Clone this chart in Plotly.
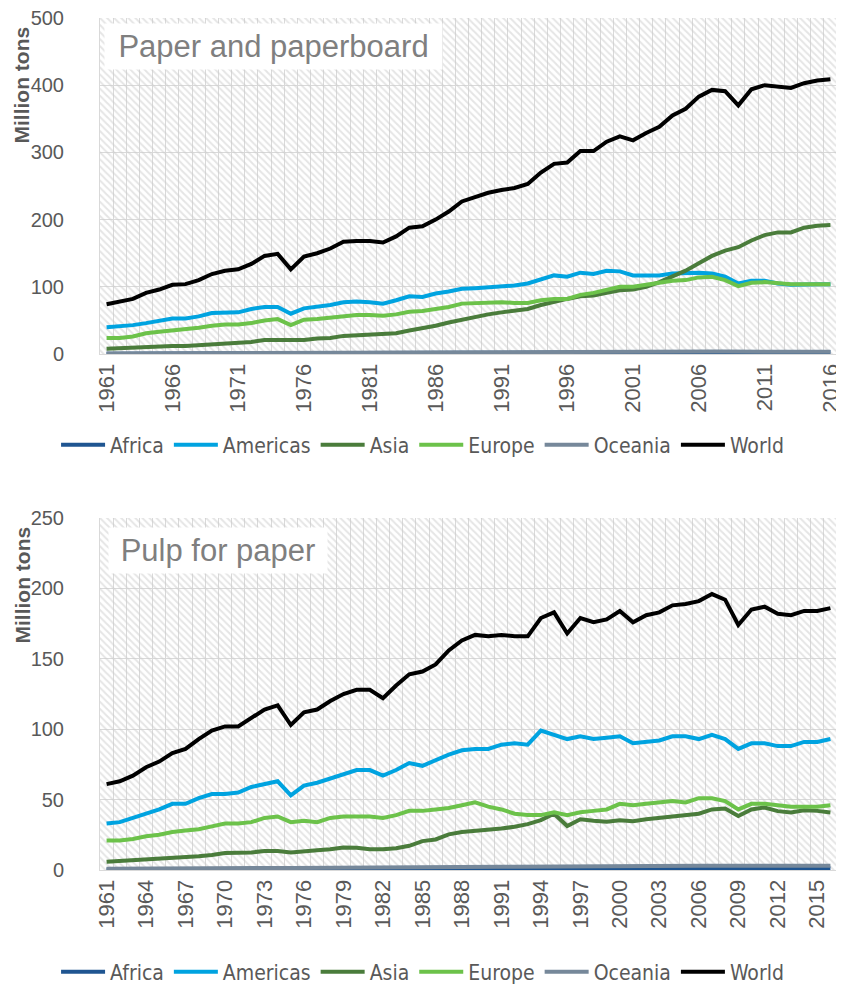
import plotly.graph_objects as go

years = list(range(1961, 2017))
regions = ["Africa", "Americas", "Asia", "Europe", "Oceania", "World"]
colors = ["#1F5591", "#00A3E0", "#4A7C3B", "#6CC24A", "#76889A", "#000000"]

# Paper and paperboard (million tons)
africa_paper = [0.4, 0.4, 0.5, 0.5, 0.6, 0.6, 0.7, 0.7, 0.8, 0.8,
                0.9, 0.9, 1.0, 1.0, 1.0, 1.1, 1.1, 1.2, 1.2, 1.3,
                1.3, 1.3, 1.4, 1.5, 1.5, 1.6, 1.7, 1.8, 1.9, 2.0,
                2.0, 2.0, 2.0, 2.1, 2.2, 2.2, 2.3, 2.3, 2.4, 2.5,
                2.5, 2.6, 2.6, 2.7, 2.8, 2.8, 2.9, 2.9, 2.8, 2.9,
                2.9, 2.9, 3.0, 3.0, 3.0, 3.0]
americas_paper = [40, 41, 43, 46, 50, 53, 53, 56, 61, 61,
                  62, 67, 70, 70, 60, 68, 70, 73, 77, 78,
                  77, 75, 80, 86, 85, 90, 93, 97, 98, 99,
                  100, 102, 105, 111, 117, 115, 121, 119, 124, 123,
                  117, 117, 117, 120, 121, 121, 120, 115, 105, 109,
                  109, 105, 103, 104, 104, 104]
asia_paper = [8, 9, 10, 11, 12, 12, 12, 13, 15, 16,
              17, 18, 21, 21, 20, 21, 23, 24, 27, 28,
              28, 29, 31, 35, 38, 42, 47, 51, 56, 59,
              62, 65, 67, 73, 78, 82, 86, 87, 91, 95,
              96, 100, 107, 115, 124, 135, 146, 154, 159, 169,
              177, 181, 181, 188, 191, 192]
europe_paper = [24, 24, 26, 31, 33, 35, 36, 39, 42, 44,
                44, 46, 50, 52, 43, 51, 52, 54, 57, 58,
                58, 57, 59, 63, 64, 67, 70, 75, 76, 77,
                77, 76, 76, 80, 82, 82, 88, 91, 95, 100,
                100, 103, 105, 109, 110, 114, 115, 110, 101, 106,
                107, 105, 104, 104, 104, 104]
oceania_paper = [0.9, 1.0, 1.0, 1.1, 1.1, 1.2, 1.2, 1.3, 1.3, 1.4,
                 1.4, 1.5, 1.6, 1.6, 1.5, 1.6, 1.7, 1.7, 1.8, 1.8,
                 1.9, 1.9, 2.0, 2.1, 2.1, 2.2, 2.3, 2.4, 2.5, 2.5,
                 2.5, 2.6, 2.7, 2.8, 2.8, 2.9, 3.0, 3.0, 3.1, 3.2,
                 3.2, 3.3, 3.4, 3.5, 3.5, 3.6, 3.7, 3.6, 3.4, 3.5,
                 3.5, 3.4, 3.4, 3.4, 3.4, 3.4]
world_paper = [74, 78, 82, 91, 96, 103, 104, 110, 119, 124,
               126, 134, 146, 149, 126, 145, 150, 157, 167, 168,
               168, 166, 175, 188, 190, 200, 212, 227, 233, 240,
               244, 247, 253, 270, 283, 285, 302, 302, 316, 324,
               318, 329, 338, 355, 365, 383, 393, 391, 370, 394,
               400, 398, 396, 403, 407, 409]

# Pulp for paper (million tons)
africa_pulp = [0.3, 0.3, 0.4, 0.4, 0.5, 0.5, 0.6, 0.6, 0.7, 0.7,
               0.8, 0.8, 0.9, 0.9, 0.9, 1.0, 1.0, 1.0, 1.1, 1.1,
               1.1, 1.1, 1.2, 1.2, 1.2, 1.3, 1.3, 1.3, 1.3, 1.4,
               1.4, 1.4, 1.4, 1.4, 1.5, 1.5, 1.5, 1.5, 1.5, 1.5,
               1.4, 1.4, 1.4, 1.4, 1.4, 1.4, 1.4, 1.3, 1.2, 1.2,
               1.2, 1.1, 1.1, 1.1, 1.1, 1.0]
americas_pulp = [33, 34, 37, 40, 43, 47, 47, 51, 54, 54,
                 55, 59, 61, 63, 53, 60, 62, 65, 68, 71,
                 71, 67, 71, 76, 74, 78, 82, 85, 86, 86,
                 89, 90, 89, 99, 96, 93, 95, 93, 94, 95,
                 90, 91, 92, 95, 95, 93, 96, 93, 86, 90,
                 90, 88, 88, 91, 91, 93]
asia_pulp = [5.9, 6.4, 7.0, 7.6, 7.8, 8.3, 9.0, 9.7, 10.6, 12.0,
             12.3, 12.5, 13.5, 13.5, 12.5, 13.5, 14.0, 14.7, 16.0, 15.8,
             14.7, 14.7, 15.4, 17.2, 20.5, 21.7, 25.3, 27.0, 27.6, 28.4,
             29.5, 30.7, 32.6, 35.4, 40.0, 31.2, 36.0, 35.0, 34.3, 35.4,
             34.7, 36.0, 37.0, 37.8, 39.0, 40.0, 43.0, 43.7, 38.3, 43.0,
             44.4, 41.8, 40.9, 42.5, 42.0, 40.9]
europe_pulp = [21, 21, 22, 24, 25, 27, 28, 29, 31, 33,
               33, 34, 37, 38, 34, 35, 34, 37, 38, 38,
               38, 37, 39, 42, 42, 43, 44, 46, 48, 45,
               43, 40, 39, 39, 41, 39, 41, 42, 43, 47,
               46, 47, 48, 49, 48, 51, 51, 49, 43, 47,
               47, 46, 45, 45, 45, 46]
oceania_pulp = [0.8, 0.9, 0.9, 1.0, 1.0, 1.1, 1.1, 1.2, 1.2, 1.3,
                1.3, 1.4, 1.4, 1.5, 1.4, 1.5, 1.5, 1.6, 1.6, 1.7,
                1.7, 1.7, 1.8, 1.9, 1.9, 2.0, 2.1, 2.1, 2.2, 2.2,
                2.3, 2.3, 2.4, 2.5, 2.5, 2.5, 2.6, 2.6, 2.7, 2.7,
                2.8, 2.8, 2.9, 2.9, 3.0, 3.0, 3.0, 2.9, 2.8, 2.9,
                2.9, 2.9, 2.9, 3.0, 3.0, 3.0]
world_pulp = [61, 63, 67, 73, 77, 83, 86, 93, 99, 102,
              102, 108, 114, 117, 103, 112, 114, 120, 125, 128,
              128, 122, 131, 139, 141, 146, 156, 163, 167, 166,
              167, 166, 166, 179, 183, 168, 179, 176, 178, 184,
              176, 181, 183, 188, 189, 191, 196, 192, 174, 185,
              187, 182, 181, 184, 184, 186]

paper_series = [africa_paper, americas_paper, asia_paper, europe_paper, oceania_paper, world_paper]
pulp_series = [africa_pulp, americas_pulp, asia_pulp, europe_pulp, oceania_pulp, world_pulp]

paper_ticks = [1961, 1966, 1971, 1976, 1981, 1986, 1991, 1996, 2001, 2006, 2011, 2016]
pulp_ticks = [1961, 1964, 1967, 1970, 1973, 1976, 1979, 1982, 1985, 1988, 1991, 1994,
              1997, 2000, 2003, 2006, 2009, 2012, 2015]

paper_max, paper_step = 500, 100
pulp_max, pulp_step = 250, 50

titles = ["Paper and paperboard", "Pulp for paper"]

GRID = "#d9d9d9"
TXT = "#595959"
FONT = "Liberation Sans, Arial, sans-serif"
LEGFONT = "Liberation Sans Narrow, DejaVu Sans Condensed, Liberation Sans, sans-serif"

FIG_W, FIG_H = 836, 977   # page body adds an 8px margin

fig = go.Figure()

# hatched plot-area background
for ax, ymax in (("", paper_max), ("2", pulp_max)):
    fig.add_trace(go.Bar(
        x=years, y=[ymax] * len(years), width=1,
        xaxis="x" + ax, yaxis="y" + ax,
        marker=dict(color="rgba(0,0,0,0)", line=dict(width=0),
                    pattern=dict(shape="\\", fgcolor="#cccccc", bgcolor="rgba(0,0,0,0)",
                                 size=5, solidity=0.4)),
        showlegend=False, hoverinfo="skip"))

for name, col, ys in zip(regions, colors, paper_series):
    fig.add_trace(go.Scatter(x=years, y=ys, name=name, mode="lines",
                             line=dict(color=col, width=4), xaxis="x", yaxis="y",
                             legend="legend"))
for name, col, ys in zip(regions, colors, pulp_series):
    fig.add_trace(go.Scatter(x=years, y=ys, name=name, mode="lines",
                             line=dict(color=col, width=4), xaxis="x2", yaxis="y2",
                             legend="legend2"))

top_dom = [0.6056, 1.0]
bot_dom = [0.0, 0.4131]

def xaxis(ticks, dom_anchor):
    return dict(range=[years[0] - 0.5, years[-1] + 0.5], tickmode="array",
                tickvals=ticks, ticktext=[str(t) for t in ticks], tickangle=-90,
                tickfont=dict(family=FONT, size=22, color=TXT),
                showgrid=False, showline=True, linecolor=GRID, linewidth=1,
                ticks="", zeroline=False, anchor=dom_anchor, automargin=False,
                ticklabeloverflow="allow",
                minor=dict(tick0=years[0] - 0.5, dtick=1, showgrid=True,
                           gridcolor=GRID, gridwidth=1, ticks=""))

def yaxis(ymax, step, dom, anchor):
    return dict(range=[0, ymax], dtick=step, domain=dom, anchor=anchor,
                tickfont=dict(family=FONT, size=20, color=TXT),
                showgrid=True, gridcolor=GRID, gridwidth=1, zeroline=False,
                showline=True, linecolor=GRID, linewidth=1, automargin=False,
                ticklabeloverflow="allow",
                ticks="outside", ticklen=0, ticklabelstandoff=31)

legend_common = dict(orientation="h", xanchor="left", yanchor="middle",
                     xref="container", yref="container",
                     font=dict(family=LEGFONT, size=21, color=TXT),
                     bgcolor="rgba(0,0,0,0)", itemwidth=44, tracegroupgap=0)

fig.update_layout(
    width=FIG_W, height=FIG_H,
    margin=dict(l=92, r=7, t=10, b=115, autoexpand=False),
    paper_bgcolor="white", plot_bgcolor="white",
    barmode="overlay", bargap=0,
    xaxis=xaxis(paper_ticks, "y"),
    xaxis2=xaxis(pulp_ticks, "y2"),
    yaxis=yaxis(paper_max, paper_step, top_dom, "x"),
    yaxis2=yaxis(pulp_max, pulp_step, bot_dom, "x2"),
    legend=dict(x=0.0575, y=0.5527, **legend_common),
    legend2=dict(x=0.0575, y=0.0133, **legend_common),
    showlegend=True,
)

for ya, title, ycen in (("y", titles[0], 0.9214), ("y2", titles[1], 0.3345)):
    top = ya == "y"
    fig.add_annotation(xref=("x" if top else "x2") + " domain", yref=ya + " domain",
                       x=0.006 if top else 0.011, y=0.985 if top else 0.975,
                       xanchor="left", yanchor="top", text=title, showarrow=False,
                       font=dict(family=FONT, size=31, color="#7f7f7f"),
                       bgcolor="white", borderpad=2,
                       width=333 if top else 214, height=41)
    fig.add_annotation(xref="paper", yref="paper", x=-0.1065, y=ycen,
                       text="<b>Million tons</b>", textangle=-90, showarrow=False,
                       xanchor="center", yanchor="middle",
                       font=dict(family=FONT, size=21, color=TXT))

fig.write_html("out.html")
